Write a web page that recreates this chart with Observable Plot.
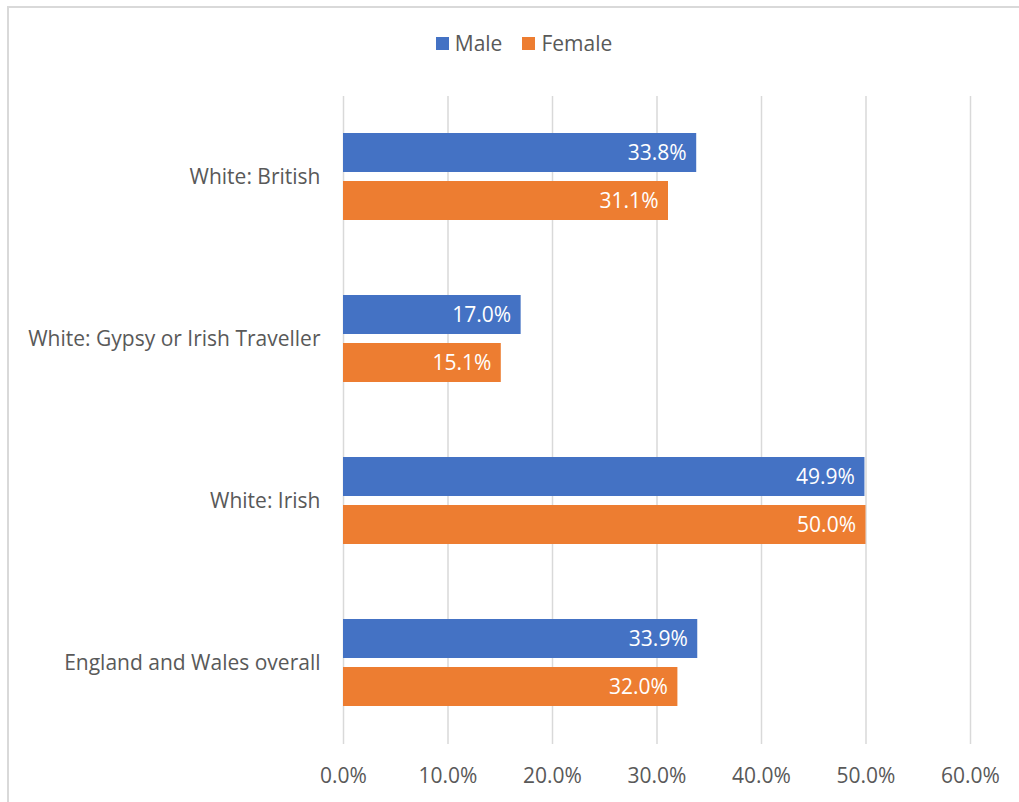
<!DOCTYPE html>
<html>
<head>
<meta charset="utf-8">
<script src="https://cdn.jsdelivr.net/npm/d3@7"></script>
<script src="https://cdn.jsdelivr.net/npm/@observablehq/plot@0.6"></script>
<style>
  html, body { margin: 0; padding: 0; background: #fff; }
  body { width: 1019px; height: 802px; position: relative; overflow: hidden; font-family: "Open Sans", Lato, sans-serif; }
  #frame { position: absolute; left: 7px; top: 6px; width: 1100px; height: 900px; border-left: 2px solid #d9d9d9; border-top: 2px solid #d9d9d9; }
  #chart { position: absolute; left: 0; top: 0; }
  #legend { position: absolute; top: 29px; left: 0; width: 1019px; display: flex; justify-content: center; gap: 20px; font-size: 21px; color: #595959; padding-left: 29px; box-sizing: border-box; }
  .item { display: flex; align-items: center; gap: 6px; }
  .sw { width: 13px; height: 13px; display: inline-block; }
</style>
</head>
<body>
<div id="frame"></div>
<div id="chart"></div>
<div id="legend"></div>
<script>
const categories = ["White: British", "White: Gypsy or Irish Traveller", "White: Irish", "England and Wales overall"];
const maleValues = [33.8, 17.0, 49.9, 33.9];
const femaleValues = [31.1, 15.1, 50.0, 32.0];
const seriesNames = ["Male", "Female"];
const seriesColors = ["#4472C4", "#ED7D31"];
const xTicks = [0, 10, 20, 30, 40, 50, 60];

const data = [];
categories.forEach((c, i) => {
  data.push({category: c, sex: "Male", value: maleValues[i]});
  data.push({category: c, sex: "Female", value: femaleValues[i]});
});

const fmt = d => d.toFixed(1) + "%";
const textColor = "#595959";

const chart = Plot.plot({
  width: 1019,
  height: 800,
  marginLeft: 343,
  marginRight: 49,
  marginTop: 95,
  marginBottom: 55,
  style: {fontFamily: "'Open Sans', Lato, sans-serif", fontSize: "21px", color: textColor, background: "transparent"},
  x: {domain: [0, 60], ticks: xTicks, tickFormat: fmt, tickSize: 0, tickPadding: 24, label: null},
  y: {domain: seriesNames, paddingInner: 0.18, paddingOuter: 0.77, axis: null},
  fy: {domain: categories, padding: 0, tickSize: 0, tickPadding: 23, label: null},
  color: {domain: seriesNames, range: seriesColors},
  marks: [
    Plot.ruleX(xTicks, {stroke: "#d9d9d9", strokeWidth: 1.5}),
    Plot.barX(data, {x: "value", y: "sex", fy: "category", fill: "sex"}),
    Plot.text(data, {x: "value", y: "sex", fy: "category", text: d => fmt(d.value), dx: -10, textAnchor: "end", fill: "white", fontSize: 21})
  ]
});
document.getElementById("chart").appendChild(chart);

const legend = document.getElementById("legend");
seriesNames.forEach((s, i) => {
  const item = document.createElement("div");
  item.className = "item";
  const sw = document.createElement("span");
  sw.className = "sw";
  sw.style.background = seriesColors[i];
  const lab = document.createElement("span");
  lab.textContent = s;
  item.appendChild(sw);
  item.appendChild(lab);
  legend.appendChild(item);
});
</script>
</body>
</html>
